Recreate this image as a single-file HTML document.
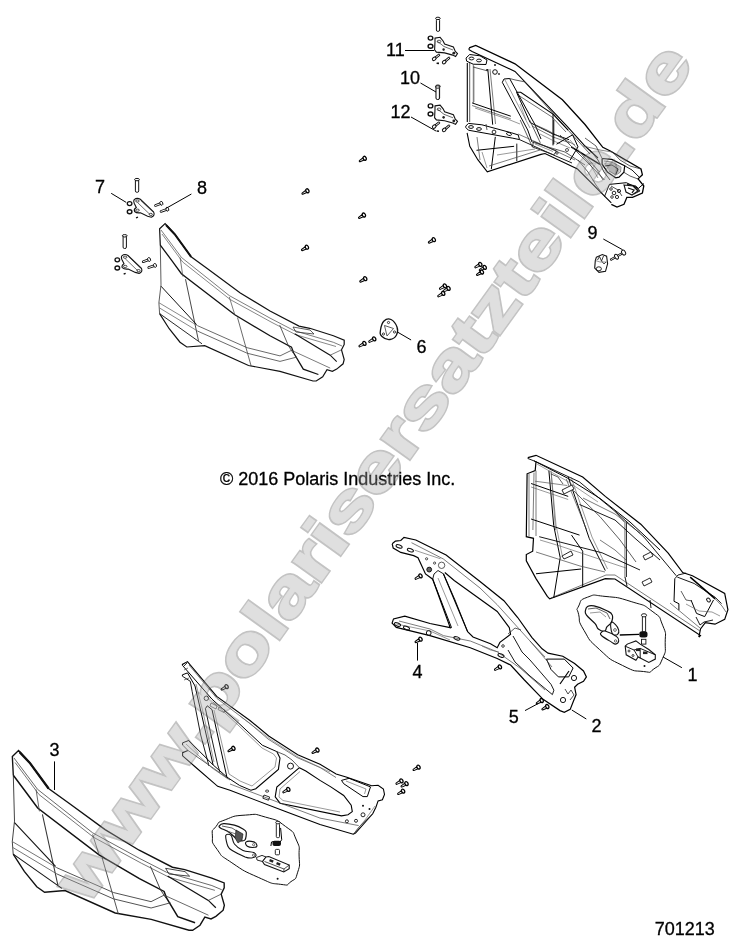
<!DOCTYPE html>
<html><head><meta charset="utf-8"><style>
html,body{margin:0;padding:0;background:#fff;width:744px;height:949px;overflow:hidden}
svg{display:block;will-change:transform}
text{font-family:"Liberation Sans",sans-serif}
</style></head><body>
<svg width="744" height="949" viewBox="0 0 744 949">
<rect width="744" height="949" fill="#fff"/><g><path d="M160.3,245.1 L161.0,284.9 L158.9,302.7 L159.6,313.6" stroke="#333" stroke-width="0.8" fill="none"/><path d="M159.6,313.6 L169.2,328.7 L180.0,342.2 L186.8,347.0 L204.7,345.6 L248.5,365.5 L280.0,371.3 L313.0,381.0 L316.2,381.0 L322.7,376.7 L327.0,369.7 L332.4,371.3 L336.7,369.1 L343.1,363.8 L344.2,359.5 L341.5,349.8 L344.2,344.4 L344.2,340.1 L333.4,335.8 L309.8,328.3 L299.0,326.1 L270.0,311.1 L240.3,292.9 L208.9,269.8 L191.1,256.8 L174.7,234.2 L165.1,223.5 L159.6,228.7 L160.3,245.1" stroke="#111" stroke-width="1.2" fill="none"/><path d="M166.0,225.0 L174.7,234.2 L191.1,256.8" stroke="#111" stroke-width="2.0" fill="none"/><path d="M160.3,245.1 L172.6,261.6 L181.4,273.7 L234.8,314.8 L270.0,335.8 L291.5,347.1 L293.7,353.0 L303.3,369.1 L318.4,374.5" stroke="#111" stroke-width="1.3" fill="none"/><path d="M161.0,230.0 L181.5,257.5 L229.3,295.6 L270.0,318.1 L293.7,330.4 L333.4,342.3" stroke="#444" stroke-width="0.7" fill="none"/><path d="M162.0,234.0 L182.7,262.0 L230.3,299.6 L272.0,322.5 L296.0,334.8 L336.0,346.5" stroke="#555" stroke-width="0.7" fill="none"/><path d="M180.1,257.5 L182.9,276.6" stroke="#444" stroke-width="0.7" fill="none"/><path d="M185.5,279.2 L198.5,340.8" stroke="#333" stroke-width="0.9" fill="none"/><path d="M229.3,297.0 L234.8,314.8" stroke="#444" stroke-width="0.7" fill="none"/><path d="M237.5,317.5 L251.2,366.2" stroke="#444" stroke-width="0.8" fill="none"/><path d="M279.7,325.1 L288.3,345.5 L293.1,353.0" stroke="#333" stroke-width="0.8" fill="none"/><path d="M161.0,286.2 L196.6,324.6" stroke="#111" stroke-width="1.0" fill="none"/><path d="M158.9,302.7 L197.8,325.8" stroke="#555" stroke-width="0.7" fill="none"/><path d="M159.6,308.0 L197.8,331.2" stroke="#555" stroke-width="0.7" fill="none"/><path d="M159.6,313.6 L202.0,343.8" stroke="#111" stroke-width="0.9" fill="none"/><path d="M197.8,325.8 L247.1,347.7 L280.0,355.9 L291.5,350.3" stroke="#444" stroke-width="0.8" fill="none"/><path d="M197.8,331.2 L247.1,353.2 L280.0,361.4 L297.0,357.0" stroke="#444" stroke-width="0.8" fill="none"/><path d="M294.7,333.7 L330.2,355.2 L336.7,361.6" stroke="#111" stroke-width="1.1" fill="none"/><path d="M291.5,350.3 L330.2,368.1" stroke="#444" stroke-width="0.7" fill="none"/><path d="M293.0,327.0 L310.0,330.0 L314.0,334.0 L296.0,332.0 Z" stroke="#333" stroke-width="0.8" fill="none"/><path d="M333.4,342.3 L342.0,346.0" stroke="#444" stroke-width="0.7" fill="none"/><path d="M330.2,355.2 L341.5,349.8" stroke="#444" stroke-width="0.7" fill="none"/></g><g transform="matrix(1.14142,-0.008922,0.010158,1.14994,-172.158,494.902)"><path d="M160.3,245.1 L161.0,284.9 L158.9,302.7 L159.6,313.6" stroke="#333" stroke-width="0.8" fill="none"/><path d="M159.6,313.6 L169.2,328.7 L180.0,342.2 L186.8,347.0 L204.7,345.6 L248.5,365.5 L280.0,371.3 L313.0,381.0 L316.2,381.0 L322.7,376.7 L327.0,369.7 L332.4,371.3 L336.7,369.1 L343.1,363.8 L344.2,359.5 L341.5,349.8 L344.2,344.4 L344.2,340.1 L333.4,335.8 L309.8,328.3 L299.0,326.1 L270.0,311.1 L240.3,292.9 L208.9,269.8 L191.1,256.8 L174.7,234.2 L165.1,223.5 L159.6,228.7 L160.3,245.1" stroke="#111" stroke-width="1.2" fill="none"/><path d="M166.0,225.0 L174.7,234.2 L191.1,256.8" stroke="#111" stroke-width="2.0" fill="none"/><path d="M160.3,245.1 L172.6,261.6 L181.4,273.7 L234.8,314.8 L270.0,335.8 L291.5,347.1 L293.7,353.0 L303.3,369.1 L318.4,374.5" stroke="#111" stroke-width="1.3" fill="none"/><path d="M161.0,230.0 L181.5,257.5 L229.3,295.6 L270.0,318.1 L293.7,330.4 L333.4,342.3" stroke="#444" stroke-width="0.7" fill="none"/><path d="M162.0,234.0 L182.7,262.0 L230.3,299.6 L272.0,322.5 L296.0,334.8 L336.0,346.5" stroke="#555" stroke-width="0.7" fill="none"/><path d="M180.1,257.5 L182.9,276.6" stroke="#444" stroke-width="0.7" fill="none"/><path d="M185.5,279.2 L198.5,340.8" stroke="#333" stroke-width="0.9" fill="none"/><path d="M229.3,297.0 L234.8,314.8" stroke="#444" stroke-width="0.7" fill="none"/><path d="M237.5,317.5 L251.2,366.2" stroke="#444" stroke-width="0.8" fill="none"/><path d="M279.7,325.1 L288.3,345.5 L293.1,353.0" stroke="#333" stroke-width="0.8" fill="none"/><path d="M161.0,286.2 L196.6,324.6" stroke="#111" stroke-width="1.0" fill="none"/><path d="M158.9,302.7 L197.8,325.8" stroke="#555" stroke-width="0.7" fill="none"/><path d="M159.6,308.0 L197.8,331.2" stroke="#555" stroke-width="0.7" fill="none"/><path d="M159.6,313.6 L202.0,343.8" stroke="#111" stroke-width="0.9" fill="none"/><path d="M197.8,325.8 L247.1,347.7 L280.0,355.9 L291.5,350.3" stroke="#444" stroke-width="0.8" fill="none"/><path d="M197.8,331.2 L247.1,353.2 L280.0,361.4 L297.0,357.0" stroke="#444" stroke-width="0.8" fill="none"/><path d="M294.7,333.7 L330.2,355.2 L336.7,361.6" stroke="#111" stroke-width="1.1" fill="none"/><path d="M291.5,350.3 L330.2,368.1" stroke="#444" stroke-width="0.7" fill="none"/><path d="M293.0,327.0 L310.0,330.0 L314.0,334.0 L296.0,332.0 Z" stroke="#333" stroke-width="0.8" fill="none"/><path d="M333.4,342.3 L342.0,346.0" stroke="#444" stroke-width="0.7" fill="none"/><path d="M330.2,355.2 L341.5,349.8" stroke="#444" stroke-width="0.7" fill="none"/></g><rect x="135.4" y="179.5" width="3.3" height="12.8" rx="1.4" fill="#fff" stroke="#111" stroke-width="1"/><ellipse cx="137" cy="179.6" rx="2.4" ry="1.2" fill="#fff" stroke="#111" stroke-width="1"/><path d="M134.2,199.6 Q137,197.2 140.3,199.3 L153.5,211.8 Q155.5,215.6 151.3,217.2 L147.6,216.2 L140.5,212.8 Q136.5,213.3 134.6,211.5 Q133.5,209 136.3,207.5 L134.2,203.2 Q133.2,201 134.2,199.6 Z" fill="#fff" stroke="#111" stroke-width="1.1"/><path d="M137.5,202.5 L150,214.5 M141,200.6 L153,212" stroke="#333" stroke-width="0.7" fill="none"/><ellipse cx="137.4" cy="201" rx="1.8" ry="1.1" fill="none" stroke="#222" stroke-width="0.8"/><ellipse cx="150.8" cy="214.4" rx="1.6" ry="1.1" fill="none" stroke="#222" stroke-width="0.8"/><ellipse cx="137.5" cy="210.2" rx="1.8" ry="1.1" fill="none" stroke="#222" stroke-width="0.8"/><ellipse cx="129.6" cy="203.6" rx="2.3" ry="2" fill="#fff" stroke="#111" stroke-width="1.3"/><ellipse cx="129.6" cy="211.8" rx="2.3" ry="2" fill="#fff" stroke="#111" stroke-width="1.4"/><path d="M136,217.8 l2,-0.6" stroke="#111" stroke-width="1.4"/><path d="M155.5,205.5 L161.4,203.3" stroke="#111" stroke-width="2.6" stroke-linecap="round"/><path d="M155.5,205.5 L161.4,203.3" stroke="#fff" stroke-width="1.0" stroke-linecap="round"/><ellipse cx="161.4" cy="203.3" rx="1.4" ry="2" transform="rotate(-20 161.4 203.3)" fill="#fff" stroke="#111" stroke-width="0.9"/><path d="M161,211.4 L167.3,209.2" stroke="#111" stroke-width="2.6" stroke-linecap="round"/><path d="M161,211.4 L167.3,209.2" stroke="#fff" stroke-width="1.0" stroke-linecap="round"/><ellipse cx="167.3" cy="209.2" rx="1.4" ry="2" transform="rotate(-20 167.3 209.2)" fill="#fff" stroke="#111" stroke-width="0.9"/><g transform="translate(-12.3,56.2)"><rect x="135.4" y="179.5" width="3.3" height="12.8" rx="1.4" fill="#fff" stroke="#111" stroke-width="1"/><ellipse cx="137" cy="179.6" rx="2.4" ry="1.2" fill="#fff" stroke="#111" stroke-width="1"/><path d="M134.2,199.6 Q137,197.2 140.3,199.3 L153.5,211.8 Q155.5,215.6 151.3,217.2 L147.6,216.2 L140.5,212.8 Q136.5,213.3 134.6,211.5 Q133.5,209 136.3,207.5 L134.2,203.2 Q133.2,201 134.2,199.6 Z" fill="#fff" stroke="#111" stroke-width="1.1"/><path d="M137.5,202.5 L150,214.5 M141,200.6 L153,212" stroke="#333" stroke-width="0.7" fill="none"/><ellipse cx="137.4" cy="201" rx="1.8" ry="1.1" fill="none" stroke="#222" stroke-width="0.8"/><ellipse cx="150.8" cy="214.4" rx="1.6" ry="1.1" fill="none" stroke="#222" stroke-width="0.8"/><ellipse cx="137.5" cy="210.2" rx="1.8" ry="1.1" fill="none" stroke="#222" stroke-width="0.8"/><ellipse cx="129.6" cy="203.6" rx="2.3" ry="2" fill="#fff" stroke="#111" stroke-width="1.3"/><ellipse cx="129.6" cy="211.8" rx="2.3" ry="2" fill="#fff" stroke="#111" stroke-width="1.4"/><path d="M136,217.8 l2,-0.6" stroke="#111" stroke-width="1.4"/><path d="M155.5,205.5 L161.4,203.3" stroke="#111" stroke-width="2.6" stroke-linecap="round"/><path d="M155.5,205.5 L161.4,203.3" stroke="#fff" stroke-width="1.0" stroke-linecap="round"/><ellipse cx="161.4" cy="203.3" rx="1.4" ry="2" transform="rotate(-20 161.4 203.3)" fill="#fff" stroke="#111" stroke-width="0.9"/><path d="M161,211.4 L167.3,209.2" stroke="#111" stroke-width="2.6" stroke-linecap="round"/><path d="M161,211.4 L167.3,209.2" stroke="#fff" stroke-width="1.0" stroke-linecap="round"/><ellipse cx="167.3" cy="209.2" rx="1.4" ry="2" transform="rotate(-20 167.3 209.2)" fill="#fff" stroke="#111" stroke-width="0.9"/></g><rect x="436.4" y="18.9" width="3.2" height="12.5" rx="1.4" fill="#fff" stroke="#111" stroke-width="1"/><ellipse cx="437.9" cy="18.4" rx="2.3" ry="1.2" fill="#fff" stroke="#111" stroke-width="1"/><path d="M435,38.1 L440.1,37.3 L443.1,41 L444.6,44 L453.4,47 L455.3,51.4 L457.5,53.6 L455.6,56.6 L452.7,55.1 L444.6,52.9 L436.4,52.1 L434.6,49.9 L435,41.8 Z" fill="#fff" stroke="#111" stroke-width="1.1"/><path d="M437,41 L444,46.5 L453,50 M443,50 l1.2,0.8" stroke="#444" stroke-width="0.8" fill="none"/><ellipse cx="439" cy="41.5" rx="1.8" ry="1.3" fill="none" stroke="#333" stroke-width="0.8"/><circle cx="453.8" cy="53.2" r="1.4" fill="#222"/><circle cx="443.6" cy="49.4" r="1.2" fill="#222"/><ellipse cx="430.5" cy="38.1" rx="2.3" ry="2" fill="#fff" stroke="#111" stroke-width="1.4"/><ellipse cx="430.5" cy="46.2" rx="2.4" ry="2" fill="#fff" stroke="#111" stroke-width="1.4"/><path d="M438.9,55.0 L434.2,58.8" stroke="#111" stroke-width="2.6" stroke-linecap="round"/><path d="M438.9,55.0 L434.2,58.8" stroke="#fff" stroke-width="1.0" stroke-linecap="round"/><ellipse cx="434.2" cy="58.8" rx="2" ry="1.5" transform="rotate(-40 434.2 58.8)" fill="#fff" stroke="#111" stroke-width="1"/><path d="M449,58.0 L444.2,62.1" stroke="#111" stroke-width="2.6" stroke-linecap="round"/><path d="M449,58.0 L444.2,62.1" stroke="#fff" stroke-width="1.0" stroke-linecap="round"/><ellipse cx="444.2" cy="62.1" rx="2" ry="1.5" transform="rotate(-40 444.2 62.1)" fill="#fff" stroke="#111" stroke-width="1"/><path d="M436.6,63.2 l2.4,0.2" stroke="#111" stroke-width="1.6"/><g transform="translate(0,67.8)"><rect x="436.4" y="18.9" width="3.2" height="12.5" rx="1.4" fill="#fff" stroke="#111" stroke-width="1"/><ellipse cx="437.9" cy="18.4" rx="2.3" ry="1.2" fill="#fff" stroke="#111" stroke-width="1"/><path d="M435,38.1 L440.1,37.3 L443.1,41 L444.6,44 L453.4,47 L455.3,51.4 L457.5,53.6 L455.6,56.6 L452.7,55.1 L444.6,52.9 L436.4,52.1 L434.6,49.9 L435,41.8 Z" fill="#fff" stroke="#111" stroke-width="1.1"/><path d="M437,41 L444,46.5 L453,50 M443,50 l1.2,0.8" stroke="#444" stroke-width="0.8" fill="none"/><ellipse cx="439" cy="41.5" rx="1.8" ry="1.3" fill="none" stroke="#333" stroke-width="0.8"/><circle cx="453.8" cy="53.2" r="1.4" fill="#222"/><circle cx="443.6" cy="49.4" r="1.2" fill="#222"/><ellipse cx="430.5" cy="38.1" rx="2.3" ry="2" fill="#fff" stroke="#111" stroke-width="1.4"/><ellipse cx="430.5" cy="46.2" rx="2.4" ry="2" fill="#fff" stroke="#111" stroke-width="1.4"/><path d="M438.9,55.0 L434.2,58.8" stroke="#111" stroke-width="2.6" stroke-linecap="round"/><path d="M438.9,55.0 L434.2,58.8" stroke="#fff" stroke-width="1.0" stroke-linecap="round"/><ellipse cx="434.2" cy="58.8" rx="2" ry="1.5" transform="rotate(-40 434.2 58.8)" fill="#fff" stroke="#111" stroke-width="1"/><path d="M449,58.0 L444.2,62.1" stroke="#111" stroke-width="2.6" stroke-linecap="round"/><path d="M449,58.0 L444.2,62.1" stroke="#fff" stroke-width="1.0" stroke-linecap="round"/><ellipse cx="444.2" cy="62.1" rx="2" ry="1.5" transform="rotate(-40 444.2 62.1)" fill="#fff" stroke="#111" stroke-width="1"/><path d="M436.6,63.2 l2.4,0.2" stroke="#111" stroke-width="1.6"/></g><rect x="436" y="87" width="3.4" height="12.5" rx="1.4" fill="#fff" stroke="#111" stroke-width="1"/><ellipse cx="437.7" cy="87" rx="2.3" ry="1.2" fill="#fff" stroke="#111" stroke-width="1"/><path d="M469.1,47.9 L475.7,45.4 L515.0,63.8 L562.4,99.8 L585.0,124.5 L602.8,147.3 L610.3,151.0 L641.0,169.0 L642.4,174.7 L638.1,178.9 L643.8,186.0 L642.4,193.0 L632.5,197.3 L626.9,197.3 L624.0,204.3 L617.0,207.1 L611.3,204.3" stroke="#000" stroke-width="1.3" fill="none" /><path d="M469.1,47.9 L469.1,49.7 L472.1,51.5 L515.0,71.4 L567.2,126.4 L585.0,146.0 L598.0,158.0" stroke="#000" stroke-width="1.1" fill="none" /><path d="M509.6,78.5 L515.0,79.9 L524.5,81.8 L568.1,130.2 L590.0,154.0" stroke="#333" stroke-width="0.8" fill="none" /><path d="M466.0,58.1 L469.7,54.5 L480.0,55.8 L487.0,60.0 L486.0,64.5 L473.3,64.2 L466.7,61.2 Z" stroke="#000" stroke-width="1.0" fill="none" /><ellipse cx="471.5" cy="58.5" rx="2.4" ry="1.4" fill="none" stroke="#111" stroke-width="1"/><ellipse cx="479" cy="60.5" rx="2.4" ry="1.4" fill="none" stroke="#111" stroke-width="1"/><path d="M465.8,126.1 L468.4,123.4 L481.9,124.8 L511.5,132.8 L518.2,134.9 L519.5,139.6 L512.8,138.2 L468.4,130.2 L465.8,127.5 Z" stroke="#000" stroke-width="1.0" fill="none" /><ellipse cx="471" cy="127" rx="2.4" ry="1.4" fill="none" stroke="#111" stroke-width="1"/><ellipse cx="479" cy="129" rx="2.4" ry="1.4" fill="none" stroke="#111" stroke-width="1"/><circle cx="495" cy="72" r="2.3" fill="none" stroke="#111" stroke-width="1"/><circle cx="487" cy="70" r="1" fill="#222"/><circle cx="495" cy="65" r="1" fill="#222"/><circle cx="499" cy="74" r="0.9" fill="#222"/><circle cx="494" cy="132" r="1.9" fill="none" stroke="#111" stroke-width="0.9"/><ellipse cx="509" cy="134" rx="2.6" ry="1.4" transform="rotate(20 509 134)" fill="none" stroke="#111" stroke-width="0.9"/><path d="M467.3,63.0 L467.3,122.0" stroke="#000" stroke-width="1.1" fill="none" /><path d="M469.7,63.0 L469.7,122.0" stroke="#333" stroke-width="0.8" fill="none" /><path d="M473.3,64.0 L473.3,103.0" stroke="#444" stroke-width="0.7" fill="none" /><path d="M487.8,69.0 L492.7,124.7" stroke="#000" stroke-width="1.0" fill="none" /><path d="M490.0,69.0 L495.5,124.0" stroke="#444" stroke-width="0.7" fill="none" /><path d="M472.1,102.9 L510.8,116.2" stroke="#000" stroke-width="1.0" fill="none" /><path d="M472.1,105.5 L510.8,118.8" stroke="#444" stroke-width="0.7" fill="none" /><path d="M473.0,67.0 L488.0,71.0" stroke="#333" stroke-width="0.8" fill="none" /><path d="M502.3,82.3 L504.0,79.0 L509.6,78.5 L535.0,124.7 L541.0,139.0" stroke="#000" stroke-width="1.0" fill="none" /><path d="M502.3,82.3 L527.7,130.0 L532.0,142.0" stroke="#000" stroke-width="1.0" fill="none" /><path d="M505.0,80.0 L530.0,128.0" stroke="#555" stroke-width="0.6" fill="none" /><path d="M516.0,92.3 L520.7,92.3 L553.0,114.1 L568.1,130.2" stroke="#000" stroke-width="1.1" fill="none" /><path d="M518.0,95.0 L552.0,117.0 L566.0,132.0" stroke="#333" stroke-width="0.7" fill="none" /><path d="M516.9,93.2 L530.2,122.6 L553.0,134.0 L569.1,139.7" stroke="#000" stroke-width="1.0" fill="none" /><path d="M532.0,126.0 L553.0,137.0 L570.0,143.0" stroke="#444" stroke-width="0.7" fill="none" /><path d="M553.0,114.1 L553.0,145.4" stroke="#000" stroke-width="1.0" fill="none" /><path d="M520.0,104.0 L526.0,120.0" stroke="#666" stroke-width="0.6" fill="none" /><path d="M519.5,139.6 L555.0,155.7 L572.0,163.0" stroke="#000" stroke-width="0.9" fill="none" /><path d="M518.0,134.0 L545.0,146.0 L575.0,160.0" stroke="#444" stroke-width="0.7" fill="none" /><path d="M467.1,132.8 L469.8,146.3 L477.8,159.7 L487.3,171.8 L541.0,154.4 L545.0,153.5 L577.5,169.0 L611.3,202.9" stroke="#000" stroke-width="1.1" fill="none" /><path d="M495.3,136.9 L491.3,169.1" stroke="#000" stroke-width="1.0" fill="none" /><path d="M476.5,150.3 L514.1,146.3" stroke="#000" stroke-width="1.0" fill="none" /><path d="M516.8,143.6 L516.8,161.1" stroke="#000" stroke-width="0.9" fill="none" /><path d="M477.0,137.0 L480.0,160.0" stroke="#444" stroke-width="0.7" fill="none" /><path d="M489.0,166.0 L540.0,150.0" stroke="#444" stroke-width="0.7" fill="none" /><path d="M474.0,66.0 L474.0,102.0" stroke="#555" stroke-width="0.6" fill="none" /><path d="M475.0,108.0 L510.0,120.0 L520.0,124.0" stroke="#555" stroke-width="0.6" fill="none" /><path d="M486.0,124.0 L487.0,130.0" stroke="#333" stroke-width="0.8" fill="none" /><path d="M532.0,142.0 L548.0,147.0 L565.0,152.0 L585.0,165.0" stroke="#333" stroke-width="0.8" fill="none" /><path d="M535.0,124.7 L547.0,130.0 L560.0,137.0 L575.0,145.0" stroke="#444" stroke-width="0.7" fill="none" /><path d="M540.0,134.0 L556.0,142.0 L570.0,148.0" stroke="#555" stroke-width="0.6" fill="none" /><path d="M533.6,141.5 L556.5,150.9 L553.8,154.9 L532.3,146.9 L533.6,141.5" stroke="#222" stroke-width="0.9" fill="none" /><path d="M535.0,144.0 L553.0,151.5" stroke="#555" stroke-width="0.6" fill="none" /><path d="M556.5,144.2 L572.6,134.8 L578.0,146.9 L570.0,160.3" stroke="#000" stroke-width="1.0" fill="none" /><path d="M571.2,146.9 L600.0,164.4" stroke="#000" stroke-width="1.6" fill="none" /><path d="M520.2,120.0 L532.3,146.9" stroke="#333" stroke-width="0.8" fill="none" /><path d="M529.6,120.0 L540.3,142.8" stroke="#333" stroke-width="0.8" fill="none" /><path d="M553.8,120.0 L553.8,144.2" stroke="#000" stroke-width="0.9" fill="none" /><circle cx="567" cy="150" r="1.5" fill="none" stroke="#222" stroke-width="0.8"/><circle cx="557" cy="153" r="1.2" fill="none" stroke="#222" stroke-width="0.8"/><path d="M482.0,152.0 L487.0,168.0" stroke="#555" stroke-width="0.6" fill="none" /><path d="M497.0,155.0 L535.0,149.0" stroke="#555" stroke-width="0.6" fill="none" /><path d="M604,163 L612,162 L620,167 L619.5,172 L615,175 L609,171 Z" fill="#bbb" stroke="none"/><path d="M605.0,166.0 L612.0,165.0 L618.0,169.0 L616.0,174.0" stroke="#222" stroke-width="0.9" fill="none" /><path d="M590.0,150.0 L598.0,160.0 L604.0,172.0 L610.0,180.0" stroke="#222" stroke-width="0.9" fill="none" /><path d="M586.0,156.0 L596.0,168.0 L603.0,180.0" stroke="#444" stroke-width="0.7" fill="none" /><path d="M578.0,150.0 L590.0,164.0 L598.0,178.0" stroke="#555" stroke-width="0.6" fill="none" /><path d="M611.0,186.0 L618.0,190.0 L622.0,196.0" stroke="#222" stroke-width="0.8" fill="none" /><path d="M627,184 L636,186 L640,191 L634,194 Z" fill="#555" stroke="#111" stroke-width="0.8"/><circle cx="619" cy="191" r="1.6" fill="none" stroke="#111" stroke-width="0.9"/><circle cx="612" cy="197" r="1.3" fill="none" stroke="#111" stroke-width="0.8"/><path d="M578.0,160.0 L588.0,172.0 L596.0,185.0 L604.0,196.0" stroke="#333" stroke-width="0.8" fill="none" /><path d="M602.1,158.5 L611.8,159.4 L624.7,165.8 L623.9,172.3 L619.0,177.1 L615.8,177.9 L607.7,172.3 L602.1,164.2 L602.1,158.5" stroke="#000" stroke-width="1.2" fill="none" /><path d="M604.0,161.0 L612.0,162.0 L621.0,167.0 L620.5,172.0 L616.0,175.0 L609.0,171.0" stroke="#555" stroke-width="0.7" fill="none" /><path d="M612.7,152.1 L620.0,160.0 L630.0,166.0 L641.0,169.0" stroke="#333" stroke-width="0.8" fill="none" /><path d="M624.7,165.8 L632.0,170.0 L639.2,177.1" stroke="#000" stroke-width="0.9" fill="none" /><path d="M623.9,172.3 L630.0,176.0 L638.0,179.0" stroke="#333" stroke-width="0.8" fill="none" /><path d="M609.4,184.4 L626.3,182.7 L638.4,188.4 L644.0,183.5" stroke="#000" stroke-width="1.0" fill="none" /><path d="M604.5,196.5 L609.4,184.4" stroke="#000" stroke-width="0.9" fill="none" /><path d="M624,185 L633,186 L638,191 L632,195 L626,192 Z" fill="#fff" stroke="#111" stroke-width="1.1"/><circle cx="614" cy="193" r="1.8" fill="none" stroke="#111" stroke-width="0.9"/><circle cx="617" cy="197" r="1.6" fill="none" stroke="#111" stroke-width="0.9"/><circle cx="611" cy="189" r="1.3" fill="none" stroke="#111" stroke-width="0.8"/><path d="M628.0,188.0 L634.0,190.0 L632.0,193.0" stroke="#111" stroke-width="1.3" fill="none" /><path d="M583.0,146.0 L600.0,150.0 L612.7,152.1" stroke="#555" stroke-width="0.7" fill="none" /><path d="M560.0,135.0 L575.0,150.0 L590.0,165.0 L604.5,180.0" stroke="#333" stroke-width="0.8" fill="none" /><path d="M570.0,140.0 L585.0,158.0 L600.0,172.0" stroke="#555" stroke-width="0.6" fill="none" /><path d="M585.0,138.0 L596.0,146.0 L602.1,158.5" stroke="#333" stroke-width="0.8" fill="none" /><path d="M527.9,457.7 L536.0,455.3 L582.7,477.0 L605.3,496.4 L640.8,524.2 L668.2,553.2 L682.7,572.6 L692.4,575.8 L724.7,593.5 L727.9,609.7 L724.7,619.4 L715.0,624.2 L705.3,622.6 L700.5,629.0 L698.9,637.1" stroke="#000" stroke-width="1.2" fill="none" /><path d="M527.9,457.7 L527.9,458.5 L536.0,461.7 L579.5,481.9 L615.0,511.3 L644.0,537.1 L676.3,575.8" stroke="#000" stroke-width="0.9" fill="none" /><path d="M536.0,461.7 L535.2,470.6 L527.1,473.8 L526.3,536.7 L533.5,538.3 L532.7,551.2 L526.3,554.5 L526.3,560.9 L536.0,578.6 L547.3,596.4 L549.7,598.8 L605.3,578.6 L615.0,579.0 L700.5,635.5 L698.9,637.1" stroke="#000" stroke-width="1.2" fill="none" /><path d="M529.0,474.0 L529.0,536.0" stroke="#444" stroke-width="0.7" fill="none" /><path d="M536.0,470.6 L536.0,536.0" stroke="#444" stroke-width="0.7" fill="none" /><path d="M551.0,598.0 L606.0,575.0 L615.0,575.0 L700.0,631.0" stroke="#444" stroke-width="0.7" fill="none" /><path d="M548.9,470.6 L553.7,525.4 L560.2,557.7 L553.7,598.0" stroke="#000" stroke-width="1.0" fill="none" /><path d="M551.0,470.6 L556.0,525.0 L562.5,557.0" stroke="#555" stroke-width="0.6" fill="none" /><path d="M568.2,477.0 L589.2,538.3 L605.3,570.6" stroke="#000" stroke-width="1.0" fill="none" /><path d="M571.0,477.0 L592.0,537.0 L607.5,569.0" stroke="#555" stroke-width="0.6" fill="none" /><path d="M626.3,522.2 L626.3,577.0" stroke="#000" stroke-width="1.0" fill="none" /><path d="M624.7,522.6 L624.7,577.4" stroke="#555" stroke-width="0.6" fill="none" /><path d="M571.5,535.1 L582.7,551.2 L582.7,586.7" stroke="#000" stroke-width="1.0" fill="none" /><path d="M531.1,483.5 L568.2,496.4" stroke="#000" stroke-width="1.0" fill="none" /><path d="M531.1,487.0 L568.2,499.5" stroke="#555" stroke-width="0.6" fill="none" /><path d="M531.1,519.0 L579.5,535.1" stroke="#000" stroke-width="1.0" fill="none" /><path d="M539.2,536.7 L602.1,552.8 L640.0,570.0" stroke="#000" stroke-width="0.9" fill="none" /><path d="M536.0,573.8 L581.1,569.0" stroke="#000" stroke-width="1.1" fill="none" /><path d="M536.0,552.0 L580.0,566.0 L605.0,572.0" stroke="#444" stroke-width="0.7" fill="none" /><path d="M579.5,504.5 L615.0,520.0 L635.0,538.3 L660.0,560.0" stroke="#000" stroke-width="0.9" fill="none" /><path d="M583.0,498.0 L615.0,514.0 L640.0,533.0" stroke="#444" stroke-width="0.7" fill="none" /><path d="M615.0,511.3 L624.7,522.6" stroke="#333" stroke-width="0.7" fill="none" /><path d="M534.0,460.8 L567.3,478.0 L600.0,498.4 L630.0,522.0 L660.0,550.0" stroke="#000" stroke-width="1.0" fill="none" /><path d="M537.0,464.0 L567.0,481.0 L598.0,502.0" stroke="#666" stroke-width="0.6" fill="none" /><path d="M534.0,472.6 L532.9,530.0" stroke="#444" stroke-width="0.7" fill="none" /><path d="M535.0,481.2 L567.3,485.5" stroke="#555" stroke-width="0.7" fill="none" /><path d="M566.2,479.0 L586.7,530.0" stroke="#444" stroke-width="0.7" fill="none" /><path d="M551.2,472.6 L555.5,530.0" stroke="#555" stroke-width="0.6" fill="none" /><path d="M573.8,490.9 L600.0,516.7 L620.0,540.0 L636.0,562.0" stroke="#333" stroke-width="0.8" fill="none" /><path d="M551.0,474.0 L558.0,477.0 L563.0,484.0" stroke="#333" stroke-width="0.8" fill="none" /><path d="M600.0,540.0 L615.0,550.0 L626.0,560.0" stroke="#444" stroke-width="0.7" fill="none" /><path d="M540.0,540.0 L560.0,546.0 L590.0,556.0 L626.0,568.0" stroke="#555" stroke-width="0.6" fill="none" /><path d="M562,490 L572,485 L574,489 L564,494 Z" fill="#fff" stroke="#111" stroke-width="0.9"/><path d="M562,556 L571,551 L573,555 L564,559 Z" fill="#fff" stroke="#111" stroke-width="0.9"/><path d="M643,556 L651,552 L653,556 L645,560 Z" fill="#fff" stroke="#111" stroke-width="0.9"/><path d="M642,582 L650,578 L652,582 L644,586 Z" fill="#fff" stroke="#111" stroke-width="0.9"/><path d="M674.8,578.7 L678.0,575.0 L686.1,573.1" stroke="#000" stroke-width="0.9" fill="none" /><path d="M674.8,578.7 L674.0,601.3 L678.9,603.7 L678.9,610.2" stroke="#000" stroke-width="1.0" fill="none" /><path d="M677.3,577.1 L694.2,583.5 L715.2,597.3 L721.6,603.7" stroke="#000" stroke-width="0.9" fill="none" /><path d="M690.2,577.1 L715.2,598.9" stroke="#000" stroke-width="1.5" fill="none" /><ellipse cx="708.5" cy="600" rx="1.6" ry="2.2" transform="rotate(-40 708.5 600)" fill="#fff" stroke="#111" stroke-width="1"/><path d="M691.0,600.0 L696.5,613.4 L704.7,616.6 L713.5,600.0" stroke="#000" stroke-width="1.0" fill="none" /><path d="M681.0,591.0 L686.0,600.0 L692.0,601.0" stroke="#333" stroke-width="0.8" fill="none" /><path d="M696.0,617.0 L700.0,625.0 L704.0,622.0 L713.0,620.0" stroke="#000" stroke-width="0.9" fill="none" /><path d="M715.2,598.9 L722.0,606.0 L726.0,612.0" stroke="#444" stroke-width="0.7" fill="none" /><path d="M686.0,604.0 L699.0,611.0 L712.0,612.0 L720.0,616.0" stroke="#555" stroke-width="0.6" fill="none" /><path d="M670.0,603.0 L700.0,628.0" stroke="#444" stroke-width="0.7" fill="none" /><path d="M625.0,577.0 L627.0,586.0" stroke="#000" stroke-width="0.9" fill="none" /><path d="M650.0,600.0 L651.0,608.0" stroke="#000" stroke-width="0.9" fill="none" /><path d="M392.2,543.8 L395.4,541.1 L400.8,540.5 L404.0,537.3 L415.8,540.0 L446.1,555.0 L480.0,581.5 L503.9,600.7 L517.7,617.5 L531.8,637.3 L542.1,648.8 L548.0,653.2 L562.8,656.2 L574.6,663.6 L583.5,671.0 L586.4,676.9 L583.5,681.3 L577.6,684.3 L574.6,687.2 L576.1,694.6 L573.1,702.0 L570.2,709.4 L564.3,712.4 L560.0,710.6 L543.1,699.3 L524.4,680.0 L510.6,665.0 L497.2,658.5 L470.3,647.7 L430.0,635.6 L396.3,627.4 L392.1,623.1 L393.5,618.9 L404.8,616.1 L430.0,623.5 L450.2,627.6 L432.7,579.2 L425.5,573.9 L418.0,557.7 L413.7,555.6 L400.8,552.4 L393.2,548.1 L392.2,543.8" stroke="#000" stroke-width="1.2" fill="none" /><path d="M411.5,542.7 L443.4,559.0 L480.0,588.0 L497.2,604.7 L530.0,641.0 L545.0,657.0" stroke="#444" stroke-width="0.7" fill="none" /><path d="M414.7,550.2 L440.5,558.8" stroke="#555" stroke-width="0.6" fill="none" /><circle cx="441.6" cy="565.3" r="3.2" fill="none" stroke="#333" stroke-width="0.8"/><path d="M444.8,572.5 L454.2,580.5 L497.2,611.5 L509.3,627.6 L510.6,634.3 L499.9,642.4 L497.2,647.7 L490.5,643.7 L473.0,637.0 L467.6,631.6 L443.4,573.8" stroke="#000" stroke-width="1.1" fill="none" /><path d="M432.7,579.2 L434.0,574.0 L438.0,570.5 L443.4,573.8" stroke="#000" stroke-width="0.9" fill="none" /><path d="M432.7,579.2 L451.5,627.6 L450.2,627.6" stroke="#000" stroke-width="1.0" fill="none" /><path d="M438.0,578.0 L458.0,626.0" stroke="#555" stroke-width="0.6" fill="none" /><path d="M443.4,573.8 L455.0,600.0 L467.6,631.6" stroke="#000" stroke-width="0.9" fill="none" /><path d="M399.0,621.0 L430.0,629.0 L443.4,635.6 L470.3,641.0 L497.2,651.8 L520.0,668.0 L545.0,690.0" stroke="#444" stroke-width="0.7" fill="none" /><path d="M396.3,624.0 L430.0,631.0 L450.0,640.0" stroke="#555" stroke-width="0.6" fill="none" /><path d="M482.0,646.0 L490.5,650.0 L499.0,652.0" stroke="#555" stroke-width="0.6" fill="none" /><path d="M513.0,636.0 L522.0,652.0 L530.0,660.0 L551.0,684.3 L553.9,690.2 L552.4,694.6 L530.0,676.0 L515.0,662.0 L508.0,650.0" stroke="#000" stroke-width="0.9" fill="none" /><path d="M546.5,659.1 L564.3,659.1 L573.1,668.0 L568.7,676.9 L558.4,676.9 L551.0,669.5 L546.5,659.1" stroke="#000" stroke-width="1.0" fill="none" /><path d="M569.0,671.0 L560.0,684.0" stroke="#000" stroke-width="1.2" fill="none" /><path d="M530.0,641.0 L542.0,655.0 L552.0,667.0" stroke="#444" stroke-width="0.7" fill="none" /><ellipse cx="399.1" cy="546.4" rx="3.2" ry="1.5" transform="rotate(20 399.1 546.4)" fill="none" stroke="#111" stroke-width="1"/><ellipse cx="410.4" cy="550.2" rx="3.2" ry="1.5" transform="rotate(20 410.4 550.2)" fill="none" stroke="#111" stroke-width="1"/><ellipse cx="397.5" cy="624.5" rx="3.2" ry="1.5" transform="rotate(20 397.5 624.5)" fill="none" stroke="#111" stroke-width="1"/><ellipse cx="406.5" cy="628" rx="3.2" ry="1.5" transform="rotate(20 406.5 628)" fill="none" stroke="#111" stroke-width="1"/><ellipse cx="456.9" cy="638.3" rx="3.2" ry="1.5" transform="rotate(20 456.9 638.3)" fill="none" stroke="#111" stroke-width="1"/><ellipse cx="501" cy="655.5" rx="3.2" ry="1.5" transform="rotate(20 501 655.5)" fill="none" stroke="#111" stroke-width="1"/><circle cx="429.2" cy="569.6" r="2.4" fill="#666" stroke="#111" stroke-width="1"/><circle cx="428.7" cy="633" r="2.4" fill="none" stroke="#111" stroke-width="1"/><circle cx="426.6" cy="558.8" r="1.1" fill="none" stroke="#222" stroke-width="0.8"/><circle cx="434.6" cy="563.1" r="1.1" fill="none" stroke="#222" stroke-width="0.8"/><circle cx="574" cy="678" r="2.6" fill="none" stroke="#111" stroke-width="1"/><circle cx="563" cy="700" r="2.6" fill="none" stroke="#111" stroke-width="1"/><path d="M565.0,689.0 L568.0,694.0 L571.0,690.0 L574.0,695.0 L570.0,700.0" stroke="#222" stroke-width="0.8" fill="none" /><path d="M508.0,634.0 L515.0,628.0 L521.0,630.0" stroke="#333" stroke-width="0.8" fill="none" /><circle cx="503" cy="646" r="1.3" fill="none" stroke="#111" stroke-width="0.8"/><path d="M578.7,606.0 C581.6,600.2 578.7,600.4 587.5,597.2 C596.3,594.0 590.4,594.9 605.0,596.4 C619.6,597.9 615.5,596.7 631.2,601.6 C646.9,606.5 641.6,603.3 652.1,611.2 C662.6,619.1 658.2,614.7 662.6,625.2 C667.0,635.7 665.2,631.6 665.2,642.7 C665.2,653.8 666.4,649.7 662.6,658.4 C658.8,667.1 660.3,664.5 653.9,668.9 C647.5,673.3 653.9,672.7 643.4,671.5 C632.9,670.3 637.0,672.7 622.4,665.4 C607.8,658.1 612.5,661.4 599.7,649.7 C586.9,638.0 591.0,642.1 584.0,630.4 C577.0,618.7 580.5,622.8 578.7,614.7 C576.9,606.6 575.8,611.8 578.7,606.0 Z" fill="none" stroke="#111" stroke-width="1.0"/><path d="M585.4,610.8 C585.6,609.1 585.8,607.5 587.5,606.5 C589.2,605.5 590.1,605.0 594.0,605.9 C597.9,606.8 603.2,609.0 606.9,610.8 C610.6,612.6 611.4,612.7 612.3,615.1 C613.2,617.5 612.3,620.2 611.2,622.6 C610.1,625.0 608.2,625.2 606.9,626.9 C605.6,628.6 606.4,630.8 604.7,631.2 C603.0,631.6 600.2,630.5 598.3,629.0 C596.4,627.5 597.5,626.5 595.1,623.7 C592.7,620.9 588.4,617.7 586.5,615.1 C584.6,612.5 585.2,612.5 585.4,610.8 Z" fill="#fff" stroke="#111" stroke-width="1.2"/><path d="M588.0,609.0 L596.0,608.0 L607.0,613.0 L610.0,619.0" stroke="#333" stroke-width="0.8" fill="none" /><path d="M590.0,613.0 L600.0,612.0 L606.0,617.0" stroke="#555" stroke-width="0.6" fill="none" /><path d="M601.5,632.3 C602.4,631.4 602.8,630.3 605.8,631.2 C608.8,632.1 614.0,634.7 616.6,636.6 C619.2,638.5 618.9,639.4 618.7,640.9 C618.5,642.4 617.0,643.9 615.5,644.1 C614.0,644.3 614.0,643.6 611.2,641.9 C608.4,640.2 603.4,637.4 601.5,635.5 C599.6,633.6 600.6,633.2 601.5,632.3 Z" fill="#fff" stroke="#111" stroke-width="1.1"/><path d="M611.2,622.6 C612.3,621.2 613.5,622.7 615.5,624.7 C617.5,626.7 618.1,627.5 618.7,630.1 C619.3,632.7 619.0,633.3 617.6,634.4 C616.2,635.5 615.0,635.5 613.3,634.4 C611.6,633.3 611.8,633.2 611.2,630.1 C610.6,627.0 610.1,624.0 611.2,622.6 Z" fill="#fff" stroke="#111" stroke-width="1.1"/><circle cx="615" cy="630" r="1.4" fill="none" stroke="#333" stroke-width="0.7"/><circle cx="615.6" cy="641" r="1.2" fill="none" stroke="#333" stroke-width="0.7"/><rect x="642.4" y="616" width="3.2" height="16" rx="1" fill="#fff" stroke="#111" stroke-width="0.9"/><ellipse cx="644" cy="615.3" rx="2.6" ry="1.6" fill="#fff" stroke="#111" stroke-width="0.9"/><rect x="639.3" y="631.3" width="8.2" height="6.2" rx="2.5" fill="#111"/><path d="M619.8,635.0 L639.1,634.4" stroke="#000" stroke-width="1.3" fill="none" /><rect x="641.5" y="639.3" width="4.4" height="4.8" fill="#fff" stroke="#111" stroke-width="0.9"/><path d="M625.2,646.2 L627.3,644.1 L635.9,640.9 L640.2,644.1 L648.8,649.5 L655.3,654.8 L655.3,659.1 L648.8,662.4 L640.2,658.1 L638.1,657 L635.9,660.2 L626.2,654.8 Z" fill="#fff" stroke="#111" stroke-width="1.1"/><path d="M625.2,646.2 L634.0,650.0 L638.1,657.0" stroke="#000" stroke-width="0.9" fill="none" /><path d="M634.0,650.0 L640.2,648.4 L655.3,654.8" stroke="#000" stroke-width="0.9" fill="none" /><path d="M640.2,648.4 L640.2,658.1" stroke="#000" stroke-width="0.9" fill="none" /><rect x="636" y="648.5" width="4" height="2.6" fill="#222"/><rect x="643" y="651.5" width="4.5" height="2.6" fill="#222"/><circle cx="629" cy="651" r="1.0" fill="none" stroke="#111" stroke-width="0.8"/><circle cx="633" cy="655.5" r="1.0" fill="none" stroke="#111" stroke-width="0.8"/><circle cx="644.5" cy="666.1" r="1" fill="#111"/><path d="M182.4,665.3 L182.4,664.4 L187.5,661.6 L216.7,696.4 L250.0,720.5 L268.7,736.0 L297.7,754.8 L320.0,764.3 L336.1,774.0 L346.9,777.2 L371.6,785.8 L378.1,785.3 L383.4,789.0 L384.5,794.4 L382.4,799.8 L378.1,800.9 L375.9,807.3 L372.7,813.8 L355.5,833.1 L353.3,834.2 L320.0,824.5 L284.8,811.3 L230.0,790.3 L217.7,786.3 L194.8,766.5 L182.6,755.8 L182.6,752.7 L187.9,750.4" stroke="#000" stroke-width="1.1" fill="none" /><path d="M189.0,665.0 L217.0,698.5 L250.0,723.5 L268.0,739.0 L297.0,757.5 L320.0,767.5 L336.0,777.5" stroke="#444" stroke-width="0.7" fill="none" /><path d="M182.4,665.3 L212.0,699.2 L238.1,722.6 L262.3,745.2 L276.8,751.6" stroke="#000" stroke-width="1.0" fill="none" /><path d="M187.0,663.0 L184.0,666.0" stroke="#000" stroke-width="0.8" fill="none" /><path d="M182.4,676.2 L182.4,674.8 L187.5,672.9 L195.0,686.0 L200.9,711.5 L213.1,764.9" stroke="#000" stroke-width="1.0" fill="none" /><path d="M182.4,676.2 L190.3,681.3 L192.2,691.7 L200.7,735.0 L209.0,766.0" stroke="#000" stroke-width="0.9" fill="none" /><path d="M205.4,708.6 L207.3,705.8 L212.0,709.6 L217.6,735.0 L226.9,777.1" stroke="#000" stroke-width="1.0" fill="none" /><path d="M205.4,708.6 L211.0,735.0 L217.7,764.9 L220.0,772.0" stroke="#000" stroke-width="0.9" fill="none" /><path d="M182.6,745.0 L182.6,742.8 L188.7,740.5 L213.1,764.9 L226.9,777.1 L239.7,785.5 L251.0,790.3" stroke="#000" stroke-width="1.0" fill="none" /><path d="M182.6,745.0 L187.9,750.4 L213.1,768.0 L230.0,780.0" stroke="#333" stroke-width="0.8" fill="none" /><path d="M251.0,790.3 L255.8,788.7 L278.4,769.4 L280.0,758.1 L276.8,751.6" stroke="#000" stroke-width="1.1" fill="none" /><path d="M276.8,751.6 L285.0,755.0 L292.0,760.0 L299.4,767.7" stroke="#333" stroke-width="0.8" fill="none" /><path d="M299.4,767.7 L305.8,771.0 L320.0,780.4 L330.8,786.9 L343.7,795.5 L351.2,805.2 L352.3,811.6 L348.0,814.8 L341.5,815.9 L280.0,803.2 L275.2,796.8 L276.8,787.1 L299.4,767.7" stroke="#000" stroke-width="1.1" fill="none" /><path d="M300.0,771.5 L280.0,789.0 L279.0,797.0 L283.0,800.5 L340.0,812.0" stroke="#555" stroke-width="0.6" fill="none" /><path d="M230.0,784.0 L284.0,804.5 L320.0,818.1 L358.7,825.6" stroke="#444" stroke-width="0.7" fill="none" /><path d="M341.5,780.4 L349.0,778.3 L370.5,786.9 L367.3,796.6 L363.0,796.6 L343.7,783.7 L341.5,780.4" stroke="#000" stroke-width="1.0" fill="none" /><path d="M346.0,781.0 L366.0,789.0 L364.5,794.0" stroke="#555" stroke-width="0.6" fill="none" /><path d="M372.7,813.8 L360.0,826.0 L353.3,834.2" stroke="#333" stroke-width="0.8" fill="none" /><path d="M375.0,806.0 L365.0,820.0 L356.0,831.0" stroke="#555" stroke-width="0.6" fill="none" /><path d="M214.0,710.0 L229.0,774.0 L240.0,781.0 L252.0,786.0 L275.0,767.0 L276.5,758.0 L273.5,754.0 L262.0,748.0 L238.0,725.0 L213.0,702.0" stroke="#555" stroke-width="0.6" fill="none" /><path d="M196.0,684.0 L203.0,712.0 L214.0,762.0" stroke="#555" stroke-width="0.6" fill="none" /><path d="M186.0,744.0 L212.0,768.0 L228.0,779.0" stroke="#555" stroke-width="0.6" fill="none" /><path d="M240.0,716.0 L270.0,739.0 L298.0,757.0 L330.0,772.0" stroke="#666" stroke-width="0.6" fill="none" /><circle cx="290.5" cy="766.1" r="3.0" fill="none" stroke="#111" stroke-width="1"/><circle cx="346.9" cy="821.3" r="1.5" fill="none" stroke="#111" stroke-width="0.9"/><circle cx="356" cy="820.8" r="1.5" fill="none" stroke="#111" stroke-width="0.9"/><circle cx="363" cy="805.7" r="1.0" fill="#111"/><circle cx="369.5" cy="808.9" r="1.0" fill="#111"/><circle cx="363" cy="814.8" r="2.0" fill="none" stroke="#111" stroke-width="0.9"/><ellipse cx="267.1" cy="791.1" rx="1.6" ry="1.1" fill="none" stroke="#111" stroke-width="0.8"/><rect x="264" y="795" width="6" height="3.4" transform="rotate(20 264 795)" fill="none" stroke="#111" stroke-width="0.8"/><circle cx="206.3" cy="698.3" r="2.2" fill="none" stroke="#111" stroke-width="0.9"/><path d="M211,703 l6,3 l-1,3 l-6,-3 z M219,707 l6,3 l-1,2.5 l-6,-3 z" fill="none" stroke="#333" stroke-width="0.7"/><path d="M184.0,670.0 L188.0,668.0" stroke="#444" stroke-width="0.7" fill="none" /><path d="M184.0,680.0 L189.0,678.0" stroke="#444" stroke-width="0.7" fill="none" /><path d="M212.4,835.9 C212.0,828.3 211.7,831.9 216.0,826.5 C220.3,821.1 215.4,823.6 225.2,819.8 C235.0,816.0 231.9,816.0 245.3,815.1 C258.7,814.2 252.1,813.3 265.5,817.1 C278.9,820.9 275.3,818.9 285.6,826.5 C295.9,834.1 291.9,830.1 296.4,840.0 C300.9,849.9 298.7,845.4 299.1,856.1 C299.5,866.8 300.4,863.7 297.7,872.2 C295.0,880.7 296.8,877.6 291.0,881.6 C285.2,885.6 291.0,885.6 280.3,884.3 C269.6,883.0 274.9,884.8 258.8,877.6 C242.7,870.4 245.8,872.2 231.9,862.8 C218.0,853.4 223.6,858.4 217.1,849.4 C210.6,840.4 212.8,843.5 212.4,835.9 Z" fill="none" stroke="#111" stroke-width="1.0"/><path d="M225.8,835.4 C226.3,833.6 229.7,834.0 231.1,835.4 C232.5,836.8 232.4,841.5 234.4,844.0 C236.4,846.5 239.8,849.1 243.0,850.5 C246.2,851.9 251.5,851.7 253.7,852.6 C255.8,853.5 256.2,855.0 255.9,855.9 C255.6,856.8 253.4,857.8 251.6,858.0 C249.8,858.2 248.3,858.1 245.1,856.9 C241.9,855.6 235.1,852.3 232.2,850.5 C229.3,848.7 229.0,848.7 227.9,846.2 C226.8,843.7 225.3,837.2 225.8,835.4 Z" fill="#fff" stroke="#111" stroke-width="1.1"/><path d="M246.2,841.9 C247.5,841.0 251.6,841.3 253.7,841.9 C255.8,842.5 256.7,844.0 256.9,845.1 C257.1,846.2 256.7,847.1 254.8,847.3 C252.9,847.5 249.0,847.3 247.3,846.2 C245.6,845.1 244.9,842.8 246.2,841.9 Z" fill="#fff" stroke="#111" stroke-width="1.1"/><path d="M219.3,825.8 C219.8,825.1 221.1,823.7 223.6,823.6 C226.1,823.5 231.2,824.3 234.4,825.2 C237.6,826.1 241.0,827.8 243.0,829.0 C245.0,830.2 245.8,830.4 246.2,832.2 C246.5,834.0 246.0,838.3 245.1,839.7 C244.2,841.1 242.2,841.0 240.8,840.8 C239.4,840.6 238.5,840.1 236.5,838.7 C234.5,837.3 231.7,834.0 229.0,832.2 C226.3,830.4 222.0,829.0 220.4,827.9 C218.8,826.8 218.8,826.5 219.3,825.8 Z" fill="#fff" stroke="#111" stroke-width="1.2"/><path d="M222.0,826.0 L232.0,828.0 L240.0,833.0 L242.0,838.0" stroke="#333" stroke-width="0.8" fill="none" /><path d="M236,830 L243,834 L242,840 L238,843 L235,838 Z" fill="#555" stroke="#111" stroke-width="0.6"/><path d="M227.0,831.0 L236.0,834.0" stroke="#444" stroke-width="0.7" fill="none" /><circle cx="253.6" cy="844.7" r="1.1" fill="none" stroke="#333" stroke-width="0.7"/><circle cx="253.5" cy="855.2" r="1.1" fill="none" stroke="#333" stroke-width="0.7"/><rect x="276.3" y="823.4" width="3.2" height="14.2" rx="1" fill="#fff" stroke="#111" stroke-width="0.9"/><ellipse cx="277.9" cy="822.6" rx="2.2" ry="1.3" fill="#fff" stroke="#111" stroke-width="0.9"/><path d="M280.6,827.9 L281.7,839.7 L279.5,843.0" stroke="#000" stroke-width="1.0" fill="none" /><rect x="272.5" y="840.8" width="8.5" height="5.2" rx="2" fill="#111"/><path d="M270.9,846.0 L271.5,842.0 L273.5,841.5" stroke="#000" stroke-width="1.0" fill="none" /><rect x="275.3" y="849.4" width="4.2" height="5.4" rx="1" fill="#fff" stroke="#111" stroke-width="0.9"/><path d="M256.5,857.5 L262,855.4 L266,857 L262.5,861.5 L257,860 Z" fill="#fff" stroke="#111" stroke-width="0.9"/><path d="M262.5,861.5 L266,857 L268.8,856.5 L289.2,865 L289.2,868.8 L283.8,872 L264.5,864.5 Z" fill="#fff" stroke="#111" stroke-width="1.1"/><path d="M264.5,861.5 L284.0,869.0 L289.2,865.0" stroke="#222" stroke-width="0.8" fill="none" /><path d="M284.0,869.0 L283.8,872.0" stroke="#222" stroke-width="0.8" fill="none" /><rect x="270" y="859" width="4" height="2.5" transform="rotate(22 270 859)" fill="#222"/><rect x="277" y="862" width="4" height="2.5" transform="rotate(22 277 862)" fill="#222"/><circle cx="277.6" cy="878.7" r="1" fill="#111"/><path d="M384.0,321.0 C386.4,318.6 388.0,318.1 391.0,319.5 C394.0,320.9 395.7,323.4 397.0,327.0 C398.3,330.6 398.1,332.1 396.5,335.0 C394.9,337.9 393.4,339.1 390.0,339.5 C386.6,339.9 384.2,338.7 382.0,336.5 C379.8,334.3 380.0,333.6 380.5,330.0 C381.0,326.4 381.6,323.4 384.0,321.0 Z" fill="#fff" stroke="#111" stroke-width="1.3"/><path d="M384.5,325.5 L393.5,328.5 L387,336 Z" fill="none" stroke="#333" stroke-width="0.8" stroke-linejoin="round"/><circle cx="388.5" cy="322.5" r="1.1" fill="none" stroke="#111" stroke-width="0.8"/><circle cx="394.5" cy="332" r="1.1" fill="none" stroke="#111" stroke-width="0.8"/><circle cx="383.5" cy="334" r="1.1" fill="none" stroke="#111" stroke-width="0.8"/><path d="M596.3,257.3 L602.3,254.6 L606.6,256.2 L607.6,263.8 L605.5,271.3 L599,272.4 L594.7,268.1 L595.3,260.5 Z" fill="#fff" stroke="#111" stroke-width="1.1"/><path d="M597.5,260.0 L599.5,256.5 L601.5,261.0 L603.5,256.0" stroke="#222" stroke-width="0.9" fill="none" /><path d="M601.5,261.0 L604.0,264.0 L606.0,262.0" stroke="#222" stroke-width="0.8" fill="none" /><path d="M595.3,260.5 L600.0,262.0 L606.6,262.0" stroke="#555" stroke-width="0.6" fill="none" /><ellipse cx="598.8" cy="268.8" rx="2.6" ry="2.0" fill="none" stroke="#111" stroke-width="0.9"/><path d="M610.3,260.0 L621.5,253.8" stroke="#000" stroke-width="2.4" fill="none" /><path d="M610.8,259.7 L621.0,254.0" stroke="#fff" stroke-width="0.9" fill="none" /><ellipse cx="616.5" cy="256.7" rx="1.6" ry="2.6" transform="rotate(-30 616.5 256.7)" fill="#fff" stroke="#111" stroke-width="1"/><ellipse cx="623.6" cy="252.6" rx="1.8" ry="2.6" transform="rotate(-30 623.6 252.6)" fill="#fff" stroke="#111" stroke-width="1"/><g transform="translate(362.8,159.4) rotate(150) scale(1.0)"><path d="M-1.5,-1.3 L3.6,-0.7 Q4.4,0 3.6,0.7 L-1.5,1.3 Z" fill="#fff" stroke="#000" stroke-width="1.0" stroke-linejoin="round"/><ellipse cx="-2.2" cy="0" rx="1.5" ry="2.1" fill="#fff" stroke="#000" stroke-width="1.3"/></g><g transform="translate(305.5,191.9) rotate(150) scale(1.0)"><path d="M-1.5,-1.3 L3.6,-0.7 Q4.4,0 3.6,0.7 L-1.5,1.3 Z" fill="#fff" stroke="#000" stroke-width="1.0" stroke-linejoin="round"/><ellipse cx="-2.2" cy="0" rx="1.5" ry="2.1" fill="#fff" stroke="#000" stroke-width="1.3"/></g><g transform="translate(362.0,216.1) rotate(150) scale(1.0)"><path d="M-1.5,-1.3 L3.6,-0.7 Q4.4,0 3.6,0.7 L-1.5,1.3 Z" fill="#fff" stroke="#000" stroke-width="1.0" stroke-linejoin="round"/><ellipse cx="-2.2" cy="0" rx="1.5" ry="2.1" fill="#fff" stroke="#000" stroke-width="1.3"/></g><g transform="translate(305.0,248.3) rotate(150) scale(1.0)"><path d="M-1.5,-1.3 L3.6,-0.7 Q4.4,0 3.6,0.7 L-1.5,1.3 Z" fill="#fff" stroke="#000" stroke-width="1.0" stroke-linejoin="round"/><ellipse cx="-2.2" cy="0" rx="1.5" ry="2.1" fill="#fff" stroke="#000" stroke-width="1.3"/></g><g transform="translate(363.3,279.8) rotate(150) scale(1.0)"><path d="M-1.5,-1.3 L3.6,-0.7 Q4.4,0 3.6,0.7 L-1.5,1.3 Z" fill="#fff" stroke="#000" stroke-width="1.0" stroke-linejoin="round"/><ellipse cx="-2.2" cy="0" rx="1.5" ry="2.1" fill="#fff" stroke="#000" stroke-width="1.3"/></g><g transform="translate(431.9,240.8) rotate(150) scale(1.0)"><path d="M-1.5,-1.3 L3.6,-0.7 Q4.4,0 3.6,0.7 L-1.5,1.3 Z" fill="#fff" stroke="#000" stroke-width="1.0" stroke-linejoin="round"/><ellipse cx="-2.2" cy="0" rx="1.5" ry="2.1" fill="#fff" stroke="#000" stroke-width="1.3"/></g><g transform="translate(478.4,265.5) rotate(150) scale(1.0)"><path d="M-1.5,-1.3 L3.6,-0.7 Q4.4,0 3.6,0.7 L-1.5,1.3 Z" fill="#fff" stroke="#000" stroke-width="1.0" stroke-linejoin="round"/><ellipse cx="-2.2" cy="0" rx="1.5" ry="2.1" fill="#fff" stroke="#000" stroke-width="1.3"/></g><g transform="translate(482.8,268.5) rotate(150) scale(1.0)"><path d="M-1.5,-1.3 L3.6,-0.7 Q4.4,0 3.6,0.7 L-1.5,1.3 Z" fill="#fff" stroke="#000" stroke-width="1.0" stroke-linejoin="round"/><ellipse cx="-2.2" cy="0" rx="1.5" ry="2.1" fill="#fff" stroke="#000" stroke-width="1.3"/></g><g transform="translate(480.0,273.1) rotate(150) scale(1.0)"><path d="M-1.5,-1.3 L3.6,-0.7 Q4.4,0 3.6,0.7 L-1.5,1.3 Z" fill="#fff" stroke="#000" stroke-width="1.0" stroke-linejoin="round"/><ellipse cx="-2.2" cy="0" rx="1.5" ry="2.1" fill="#fff" stroke="#000" stroke-width="1.3"/></g><g transform="translate(443.0,287.0) rotate(150) scale(1.0)"><path d="M-1.5,-1.3 L3.6,-0.7 Q4.4,0 3.6,0.7 L-1.5,1.3 Z" fill="#fff" stroke="#000" stroke-width="1.0" stroke-linejoin="round"/><ellipse cx="-2.2" cy="0" rx="1.5" ry="2.1" fill="#fff" stroke="#000" stroke-width="1.3"/></g><g transform="translate(446.6,289.5) rotate(150) scale(1.0)"><path d="M-1.5,-1.3 L3.6,-0.7 Q4.4,0 3.6,0.7 L-1.5,1.3 Z" fill="#fff" stroke="#000" stroke-width="1.0" stroke-linejoin="round"/><ellipse cx="-2.2" cy="0" rx="1.5" ry="2.1" fill="#fff" stroke="#000" stroke-width="1.3"/></g><g transform="translate(441.3,294.5) rotate(150) scale(1.0)"><path d="M-1.5,-1.3 L3.6,-0.7 Q4.4,0 3.6,0.7 L-1.5,1.3 Z" fill="#fff" stroke="#000" stroke-width="1.0" stroke-linejoin="round"/><ellipse cx="-2.2" cy="0" rx="1.5" ry="2.1" fill="#fff" stroke="#000" stroke-width="1.3"/></g><g transform="translate(362.5,344.5) rotate(150) scale(1.0)"><path d="M-1.5,-1.3 L3.6,-0.7 Q4.4,0 3.6,0.7 L-1.5,1.3 Z" fill="#fff" stroke="#000" stroke-width="1.0" stroke-linejoin="round"/><ellipse cx="-2.2" cy="0" rx="1.5" ry="2.1" fill="#fff" stroke="#000" stroke-width="1.3"/></g><g transform="translate(372.3,340.0) rotate(150) scale(1.0)"><path d="M-1.5,-1.3 L3.6,-0.7 Q4.4,0 3.6,0.7 L-1.5,1.3 Z" fill="#fff" stroke="#000" stroke-width="1.0" stroke-linejoin="round"/><ellipse cx="-2.2" cy="0" rx="1.5" ry="2.1" fill="#fff" stroke="#000" stroke-width="1.3"/></g><g transform="translate(418.6,577.0) rotate(150) scale(1.0)"><path d="M-1.5,-1.3 L3.6,-0.7 Q4.4,0 3.6,0.7 L-1.5,1.3 Z" fill="#fff" stroke="#000" stroke-width="1.0" stroke-linejoin="round"/><ellipse cx="-2.2" cy="0" rx="1.5" ry="2.1" fill="#fff" stroke="#000" stroke-width="1.3"/></g><g transform="translate(418.6,640.3) rotate(150) scale(1.0)"><path d="M-1.5,-1.3 L3.6,-0.7 Q4.4,0 3.6,0.7 L-1.5,1.3 Z" fill="#fff" stroke="#000" stroke-width="1.0" stroke-linejoin="round"/><ellipse cx="-2.2" cy="0" rx="1.5" ry="2.1" fill="#fff" stroke="#000" stroke-width="1.3"/></g><g transform="translate(498.0,668.0) rotate(150) scale(1.0)"><path d="M-1.5,-1.3 L3.6,-0.7 Q4.4,0 3.6,0.7 L-1.5,1.3 Z" fill="#fff" stroke="#000" stroke-width="1.0" stroke-linejoin="round"/><ellipse cx="-2.2" cy="0" rx="1.5" ry="2.1" fill="#fff" stroke="#000" stroke-width="1.3"/></g><g transform="translate(539.8,701.6) rotate(150) scale(1.0)"><path d="M-1.5,-1.3 L3.6,-0.7 Q4.4,0 3.6,0.7 L-1.5,1.3 Z" fill="#fff" stroke="#000" stroke-width="1.0" stroke-linejoin="round"/><ellipse cx="-2.2" cy="0" rx="1.5" ry="2.1" fill="#fff" stroke="#000" stroke-width="1.3"/></g><g transform="translate(545.4,707.6) rotate(150) scale(1.0)"><path d="M-1.5,-1.3 L3.6,-0.7 Q4.4,0 3.6,0.7 L-1.5,1.3 Z" fill="#fff" stroke="#000" stroke-width="1.0" stroke-linejoin="round"/><ellipse cx="-2.2" cy="0" rx="1.5" ry="2.1" fill="#fff" stroke="#000" stroke-width="1.3"/></g><g transform="translate(224.7,687.7) rotate(150) scale(1.0)"><path d="M-1.5,-1.3 L3.6,-0.7 Q4.4,0 3.6,0.7 L-1.5,1.3 Z" fill="#fff" stroke="#000" stroke-width="1.0" stroke-linejoin="round"/><ellipse cx="-2.2" cy="0" rx="1.5" ry="2.1" fill="#fff" stroke="#000" stroke-width="1.3"/></g><g transform="translate(231.5,749.4) rotate(150) scale(1.0)"><path d="M-1.5,-1.3 L3.6,-0.7 Q4.4,0 3.6,0.7 L-1.5,1.3 Z" fill="#fff" stroke="#000" stroke-width="1.0" stroke-linejoin="round"/><ellipse cx="-2.2" cy="0" rx="1.5" ry="2.1" fill="#fff" stroke="#000" stroke-width="1.3"/></g><g transform="translate(286.4,790.5) rotate(150) scale(1.0)"><path d="M-1.5,-1.3 L3.6,-0.7 Q4.4,0 3.6,0.7 L-1.5,1.3 Z" fill="#fff" stroke="#000" stroke-width="1.0" stroke-linejoin="round"/><ellipse cx="-2.2" cy="0" rx="1.5" ry="2.1" fill="#fff" stroke="#000" stroke-width="1.3"/></g><g transform="translate(315.5,751.1) rotate(150) scale(1.0)"><path d="M-1.5,-1.3 L3.6,-0.7 Q4.4,0 3.6,0.7 L-1.5,1.3 Z" fill="#fff" stroke="#000" stroke-width="1.0" stroke-linejoin="round"/><ellipse cx="-2.2" cy="0" rx="1.5" ry="2.1" fill="#fff" stroke="#000" stroke-width="1.3"/></g><g transform="translate(416.6,768.2) rotate(150) scale(1.0)"><path d="M-1.5,-1.3 L3.6,-0.7 Q4.4,0 3.6,0.7 L-1.5,1.3 Z" fill="#fff" stroke="#000" stroke-width="1.0" stroke-linejoin="round"/><ellipse cx="-2.2" cy="0" rx="1.5" ry="2.1" fill="#fff" stroke="#000" stroke-width="1.3"/></g><g transform="translate(399.5,782.0) rotate(150) scale(1.0)"><path d="M-1.5,-1.3 L3.6,-0.7 Q4.4,0 3.6,0.7 L-1.5,1.3 Z" fill="#fff" stroke="#000" stroke-width="1.0" stroke-linejoin="round"/><ellipse cx="-2.2" cy="0" rx="1.5" ry="2.1" fill="#fff" stroke="#000" stroke-width="1.3"/></g><g transform="translate(404.6,784.7) rotate(150) scale(1.0)"><path d="M-1.5,-1.3 L3.6,-0.7 Q4.4,0 3.6,0.7 L-1.5,1.3 Z" fill="#fff" stroke="#000" stroke-width="1.0" stroke-linejoin="round"/><ellipse cx="-2.2" cy="0" rx="1.5" ry="2.1" fill="#fff" stroke="#000" stroke-width="1.3"/></g><g transform="translate(401.2,792.2) rotate(150) scale(1.0)"><path d="M-1.5,-1.3 L3.6,-0.7 Q4.4,0 3.6,0.7 L-1.5,1.3 Z" fill="#fff" stroke="#000" stroke-width="1.0" stroke-linejoin="round"/><ellipse cx="-2.2" cy="0" rx="1.5" ry="2.1" fill="#fff" stroke="#000" stroke-width="1.3"/></g><text x="386.0" y="56.2" font-size="18" fill="#000" stroke="#000" stroke-width="0.3">11</text><text x="400.1" y="84.2" font-size="18" fill="#000" stroke="#000" stroke-width="0.3">10</text><text x="390.6" y="118.0" font-size="18" fill="#000" stroke="#000" stroke-width="0.3">12</text><text x="95.1" y="193.3" font-size="18" fill="#000" stroke="#000" stroke-width="0.3">7</text><text x="197.1" y="194.2" font-size="18" fill="#000" stroke="#000" stroke-width="0.3">8</text><text x="587.5" y="239.0" font-size="18" fill="#000" stroke="#000" stroke-width="0.3">9</text><text x="416.5" y="352.5" font-size="18" fill="#000" stroke="#000" stroke-width="0.3">6</text><text x="687.6" y="680.6" font-size="18" fill="#000" stroke="#000" stroke-width="0.3">1</text><text x="412.5" y="677.8" font-size="18" fill="#000" stroke="#000" stroke-width="0.3">4</text><text x="508.7" y="723.3" font-size="18" fill="#000" stroke="#000" stroke-width="0.3">5</text><text x="591.4" y="732.0" font-size="18" fill="#000" stroke="#000" stroke-width="0.3">2</text><text x="49.4" y="756.1" font-size="18" fill="#000" stroke="#000" stroke-width="0.3">3</text><text x="654.7" y="935.4" font-size="18" fill="#000" stroke="#000" stroke-width="0.3">701213</text><text x="219.9" y="485.0" font-size="18" fill="#000" stroke="#000" stroke-width="0.3">© 2016 Polaris Industries Inc.</text><path d="M111.2,193.3 L126.2,202.4" stroke="#000" stroke-width="1.0" fill="none" /><path d="M191.4,194.0 L166.0,208.4" stroke="#000" stroke-width="1.0" fill="none" /><path d="M405.0,50.5 L434.0,50.5" stroke="#000" stroke-width="1.0" fill="none" /><path d="M420.5,83.0 L436.0,92.0" stroke="#000" stroke-width="1.0" fill="none" /><path d="M411.0,117.0 L436.0,131.0" stroke="#000" stroke-width="1.0" fill="none" /><path d="M603.3,239.0 L622.7,249.8" stroke="#000" stroke-width="1.0" fill="none" /><path d="M397.4,332.0 L411.1,340.0" stroke="#000" stroke-width="1.0" fill="none" /><path d="M663.1,657.0 L681.9,667.7" stroke="#000" stroke-width="1.0" fill="none" /><path d="M417.5,643.0 L417.5,660.6" stroke="#000" stroke-width="1.0" fill="none" /><path d="M525.0,710.6 L537.9,703.7" stroke="#000" stroke-width="1.0" fill="none" /><path d="M571.8,710.0 L586.3,719.0" stroke="#000" stroke-width="1.0" fill="none" /><path d="M54.5,761.4 L54.5,790.0" stroke="#000" stroke-width="1.0" fill="none" />
<g opacity="0.373"><g transform="translate(87.22,905.43) rotate(-54.16) scale(1.3094,1)" font-size="65.0" font-weight="bold"><text x="0" y="0" fill="#606060" stroke="#606060" stroke-width="4.2" stroke-linejoin="miter" vector-effect="non-scaling-stroke">www.polarisersatzteile.de</text><text x="0" y="0" fill="#acacac" stroke="#acacac" stroke-width="0.8" stroke-linejoin="miter" vector-effect="non-scaling-stroke">www.polarisersatzteile.de</text></g></g>
</svg></body></html>
